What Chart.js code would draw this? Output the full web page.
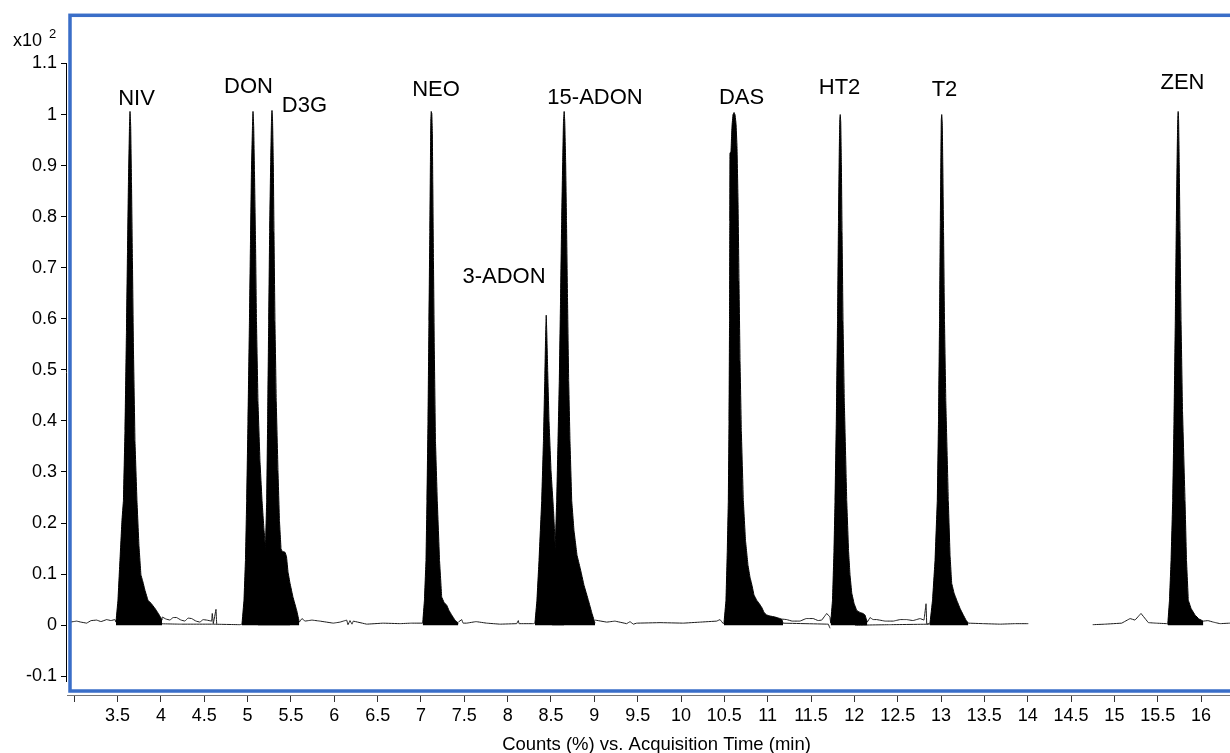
<!DOCTYPE html>
<html>
<head>
<meta charset="utf-8">
<title>Mycotoxin MRM chromatogram</title>
<script src="https://cdn.jsdelivr.net/npm/chart.js@4.4.0/dist/chart.umd.min.js"></script>
<style>
  html, body { margin: 0; padding: 0; background: #ffffff; }
  #wrap { width: 1230px; height: 753px; position: relative; }
</style>
</head>
<body>
<div id="wrap"><canvas id="chrom"></canvas></div>
<script>
// Integrated peaks: [retention time (min), relative response (x10^2 counts %)]
const peakNIV = [[3.481,0.006],[3.504,0.049],[3.527,0.127],[3.550,0.205],[3.567,0.244],[3.585,0.381],[3.602,0.576],[3.614,0.732],[3.625,0.869],[3.637,0.977],[3.643,1.006],[3.651,0.977],[3.660,0.869],[3.671,0.713],[3.683,0.537],[3.700,0.361],[3.723,0.244],[3.746,0.156],[3.769,0.098],[3.787,0.088],[3.816,0.068],[3.850,0.049],[3.885,0.043],[3.931,0.033],[3.977,0.021],[4.012,0.010]];
const peakDON = [[4.935,0.002],[4.958,0.049],[4.975,0.127],[4.989,0.244],[5.004,0.400],[5.021,0.596],[5.033,0.752],[5.044,0.889],[5.056,0.977],[5.062,1.006],[5.070,0.977],[5.079,0.889],[5.091,0.752],[5.102,0.596],[5.119,0.439],[5.142,0.322],[5.166,0.244],[5.189,0.186],[5.206,0.154],[5.235,0.098],[5.281,0.049],[5.373,0.020],[5.489,0.006]];
const peakD3G = [[5.119,0.002],[5.166,0.049],[5.194,0.127],[5.206,0.154],[5.220,0.244],[5.231,0.400],[5.243,0.596],[5.254,0.771],[5.266,0.908],[5.275,0.986],[5.281,1.008],[5.288,0.986],[5.296,0.908],[5.304,0.771],[5.315,0.596],[5.330,0.439],[5.350,0.303],[5.367,0.205],[5.385,0.150],[5.396,0.145],[5.431,0.143],[5.448,0.135],[5.466,0.104],[5.489,0.082],[5.523,0.055],[5.566,0.029],[5.596,0.006]];
const peakNEO = [[7.020,0.004],[7.040,0.049],[7.058,0.127],[7.069,0.244],[7.081,0.400],[7.092,0.596],[7.102,0.771],[7.109,0.908],[7.113,0.986],[7.118,1.006],[7.125,1.002],[7.131,0.967],[7.136,0.869],[7.144,0.713],[7.154,0.537],[7.167,0.361],[7.188,0.244],[7.214,0.127],[7.239,0.055],[7.265,0.045],[7.297,0.039],[7.323,0.029],[7.354,0.020],[7.392,0.010],[7.431,0.004]];
const peak3ADON = [[8.315,0.004],[8.338,0.049],[8.362,0.127],[8.393,0.244],[8.413,0.361],[8.428,0.479],[8.438,0.566],[8.445,0.607],[8.451,0.576],[8.462,0.498],[8.477,0.400],[8.500,0.303],[8.529,0.225],[8.549,0.154],[8.569,0.098],[8.604,0.039],[8.650,0.006]];
const peak15ADON = [[8.512,0.049],[8.535,0.107],[8.549,0.154],[8.566,0.244],[8.581,0.361],[8.596,0.479],[8.610,0.635],[8.623,0.791],[8.635,0.908],[8.644,0.986],[8.652,1.006],[8.659,0.986],[8.669,0.908],[8.679,0.791],[8.691,0.635],[8.704,0.479],[8.719,0.361],[8.739,0.244],[8.765,0.186],[8.800,0.137],[8.835,0.113],[8.881,0.078],[8.931,0.049],[8.973,0.023],[9.008,0.004]];
const peakDAS = [[10.496,0.004],[10.519,0.049],[10.534,0.146],[10.546,0.244],[10.554,0.400],[10.560,0.596],[10.563,0.791],[10.565,0.924],[10.577,0.928],[10.588,0.977],[10.600,1.000],[10.612,1.004],[10.623,1.000],[10.635,0.982],[10.646,0.938],[10.658,0.830],[10.669,0.674],[10.681,0.518],[10.696,0.381],[10.719,0.244],[10.744,0.166],[10.773,0.117],[10.796,0.094],[10.819,0.078],[10.842,0.059],[10.873,0.049],[10.900,0.043],[10.931,0.035],[10.958,0.025],[10.989,0.020],[11.027,0.018],[11.085,0.016],[11.162,0.012],[11.177,0.004]];
const peakHT2 = [[11.727,0.004],[11.748,0.049],[11.765,0.146],[11.777,0.244],[11.792,0.400],[11.806,0.596],[11.817,0.791],[11.826,0.928],[11.832,0.990],[11.837,1.000],[11.843,0.986],[11.850,0.908],[11.858,0.771],[11.869,0.596],[11.884,0.439],[11.912,0.244],[11.933,0.146],[11.950,0.098],[11.970,0.063],[11.996,0.043],[12.027,0.029],[12.065,0.025],[12.100,0.023],[12.123,0.020],[12.149,0.006]];
const peakT2 = [[12.873,0.004],[12.902,0.049],[12.931,0.127],[12.957,0.244],[12.971,0.400],[12.983,0.596],[12.992,0.791],[12.999,0.928],[13.003,0.990],[13.008,1.000],[13.014,0.986],[13.020,0.908],[13.029,0.771],[13.040,0.596],[13.055,0.439],[13.084,0.244],[13.104,0.137],[13.123,0.082],[13.150,0.063],[13.181,0.049],[13.219,0.033],[13.257,0.020],[13.288,0.010],[13.315,0.004]];
const peakZEN = [[15.616,0.002],[15.636,0.049],[15.654,0.127],[15.673,0.244],[15.688,0.400],[15.703,0.596],[15.715,0.791],[15.725,0.928],[15.731,0.990],[15.736,1.006],[15.741,0.990],[15.748,0.908],[15.757,0.771],[15.769,0.596],[15.786,0.420],[15.815,0.244],[15.832,0.127],[15.853,0.049],[15.884,0.033],[15.930,0.020],[15.977,0.012],[16.026,0.008]];

// Baseline stretches of the individual transitions between peaks
const baseLeadIn = [[2.950,0.006],[3.028,0.008],[3.077,0.006],[3.143,0.004],[3.193,0.009],[3.258,0.010],[3.308,0.007],[3.374,0.011],[3.423,0.009],[3.469,0.011],[3.481,0.006]];
const baseAfterNIV = [[4.012,0.010],[4.015,0.016],[4.058,0.012],[4.104,0.010],[4.139,0.015],[4.181,0.015],[4.231,0.010],[4.277,0.008],[4.312,0.014],[4.354,0.013],[4.404,0.008],[4.450,0.006],[4.485,0.011],[4.527,0.010],[4.585,0.008],[4.592,0.023],[4.604,0.003],[4.635,0.031],[4.643,0.002]];
const baseUnderNIV = [[3.939,0.003],[4.219,0.002],[4.600,0.002],[4.912,0.001],[4.935,0.002]];
const baseAfterD3G = [[5.596,0.006],[5.627,0.013],[5.662,0.008],[5.742,0.010],[5.835,0.008],[5.988,0.004],[6.066,0.006],[6.143,0.010],[6.158,0.001],[6.181,0.009],[6.204,0.002],[6.219,0.008],[6.374,0.002],[6.562,0.004],[6.758,0.003],[6.885,0.004],[7.020,0.004]];
const baseAfterNEO = [[7.431,0.006],[7.470,0.011],[7.485,0.004],[7.528,0.004],[7.635,0.007],[7.758,0.004],[7.912,0.002],[8.104,0.003],[8.123,0.009],[8.131,0.003],[8.296,0.003],[8.315,0.004]];
const baseAfterADON = [[9.008,0.010],[9.143,0.006],[9.238,0.008],[9.373,0.003],[9.412,0.007],[9.450,0.002],[9.489,0.004],[9.758,0.005],[10.027,0.004],[10.219,0.006],[10.412,0.008],[10.450,0.011],[10.488,0.003],[10.496,0.004]];
const baseAfterDAS = [[11.162,0.012],[11.220,0.011],[11.281,0.008],[11.373,0.008],[11.443,0.013],[11.526,0.013],[11.581,0.009],[11.624,0.010],[11.681,0.023],[11.719,0.016],[11.727,0.004]];
const baseUnderDAS = [[10.850,0.003],[11.162,0.004],[11.700,0.002],[11.719,-0.006]];
const baseAfterHT2 = [[12.149,0.006],[12.181,0.015],[12.215,0.011],[12.258,0.011],[12.354,0.008],[12.450,0.008],[12.527,0.011],[12.604,0.011],[12.677,0.009],[12.758,0.013],[12.804,0.010],[12.827,0.042],[12.835,0.002],[12.873,0.004]];
const baseUnderHT2 = [[12.008,0.000],[12.411,0.001],[12.873,0.002]];
const baseAfterT2 = [[13.315,0.004],[13.488,0.003],[13.681,0.002],[13.854,0.003],[14.007,0.003]];
const baseZenLead = [[14.750,0.001],[14.892,0.002],[15.085,0.004],[15.181,0.013],[15.238,0.010],[15.307,0.023],[15.392,0.005],[15.481,0.004],[15.604,0.003],[15.616,0.002]];
const baseZenTail = [[16.026,0.008],[16.080,0.009],[16.142,0.006],[16.219,0.003],[16.334,0.004]];

// Compound annotations, anchored in time / response units
const compoundNames = ['NIV', 'DON', 'D3G', 'NEO', '3-ADON', '15-ADON', 'DAS', 'HT2', 'T2', 'ZEN'];
const labelTimes = [3.718, 5.010, 5.656, 7.173, 7.958, 9.008, 10.698, 11.829, 13.040, 15.786];
const labelLevels = [1.031, 1.055, 1.016, 1.049, 0.682, 1.033, 1.033, 1.053, 1.049, 1.061];

// Axis ticks
const xTickValues = [3, 3.5, 4, 4.5, 5, 5.5, 6, 6.5, 7, 7.5, 8, 8.5, 9, 9.5, 10, 10.5, 11, 11.5, 12, 12.5, 13, 13.5, 14, 14.5, 15, 15.5, 16];
const xTickLabels = ['', '3.5', '4', '4.5', '5', '5.5', '6', '6.5', '7', '7.5', '8', '8.5', '9', '9.5', '10', '10.5', '11', '11.5', '12', '12.5', '13', '13.5', '14', '14.5', '15', '15.5', '16'];
const yTickValues = [-0.1, 0, 0.1, 0.2, 0.3, 0.4, 0.5, 0.6, 0.7, 0.8, 0.9, 1.0, 1.1];
const yTickLabels = ['-0.1', '0', '0.1', '0.2', '0.3', '0.4', '0.5', '0.6', '0.7', '0.8', '0.9', '1', '1.1'];
const xAxisTitle = 'Counts (%) vs. Acquisition Time (min)';
const yScaleNote = 'x10';
const yScaleExponent = '2';

const FONT = "'Liberation Sans', Arial, Helvetica, sans-serif";
const FRAME_BLUE = '#3a6ec8';

const toXY = pts => pts.map(([x, y]) => ({ x, y }));

const peakSets = [peakNIV, peakDON, peakD3G, peakNEO, peak3ADON, peak15ADON, peakDAS, peakHT2, peakT2, peakZEN];
const baseSets = [baseLeadIn, baseAfterNIV, baseUnderNIV, baseAfterD3G, baseAfterNEO, baseAfterADON,
                  baseAfterDAS, baseUnderDAS, baseAfterHT2, baseUnderHT2, baseAfterT2, baseZenLead, baseZenTail];

// A tiny non-zero tension keeps Chart.js on its exact path builder, so narrow
// peaks whose points share a pixel column still fill as solid shapes.
const NEAR_STRAIGHT = 0.0001;

const datasets = [];
peakSets.forEach((pts, i) => datasets.push({
  label: compoundNames[i],
  data: toXY(pts),
  borderColor: '#000',
  backgroundColor: '#000',
  borderWidth: 1,
  fill: 'origin',
  tension: NEAR_STRAIGHT,
  pointRadius: 0
}));
baseSets.forEach(pts => datasets.push({
  label: 'baseline',
  data: toXY(pts),
  borderColor: '#1a1a1a',
  borderWidth: 1,
  fill: false,
  tension: NEAR_STRAIGHT,
  pointRadius: 0
}));

const lookupLabel = (values, labels, v) => {
  const i = values.findIndex(t => Math.abs(t - v) < 1e-7);
  return i >= 0 ? labels[i] : '';
};

// Axis lines, the blue plot frame, the scale exponent and compound names
const decorations = {
  id: 'decorations',
  afterDraw(chart) {
    const { ctx, chartArea: a, scales: { x, y } } = chart;
    ctx.save();

    // vertical axis line spanning the labelled range
    ctx.strokeStyle = '#000';
    ctx.lineWidth = 1;
    ctx.beginPath();
    ctx.moveTo(a.left - 0.5, Math.round(y.getPixelForValue(yTickValues[yTickValues.length - 1])));
    ctx.lineTo(a.left - 0.5, Math.round(y.getPixelForValue(-0.112)));
    ctx.stroke();

    // blue frame around the trace area
    ctx.strokeStyle = FRAME_BLUE;
    ctx.lineWidth = 3.5;
    ctx.strokeRect(a.left + 3, a.top + 0.5, (a.right - a.left) + 20, (a.bottom - a.top) - 4.5);

    // compound names above their peaks
    ctx.fillStyle = '#000';
    ctx.font = '22px ' + FONT;
    ctx.textAlign = 'center';
    ctx.textBaseline = 'middle';
    compoundNames.forEach((name, i) => {
      ctx.fillText(name, x.getPixelForValue(labelTimes[i]), y.getPixelForValue(labelLevels[i]));
    });

    // response scale exponent
    ctx.textAlign = 'left';
    ctx.textBaseline = 'alphabetic';
    ctx.font = '18px ' + FONT;
    ctx.fillText(yScaleNote, 13, 46);
    ctx.font = '13px ' + FONT;
    ctx.fillText(yScaleExponent, 49, 38);

    // time axis title
    ctx.font = '18.5px ' + FONT;
    ctx.textAlign = 'center';
    ctx.fillText(xAxisTitle, (a.left + a.right) / 2 + 8, 750);

    ctx.restore();
  }
};

new Chart(document.getElementById('chrom'), {
  type: 'line',
  data: { datasets },
  plugins: [decorations],
  options: {
    responsive: true,
    maintainAspectRatio: false,
    animation: false,
    devicePixelRatio: 1,
    layout: { padding: { top: 13, right: 0, bottom: 0, left: 0 } },
    plugins: {
      legend: { display: false },
      tooltip: { enabled: false },
      title: { display: false }
    },
    elements: { point: { radius: 0 }, line: { tension: NEAR_STRAIGHT } },
    scales: {
      x: {
        type: 'linear',
        min: 2.916,
        max: 16.334,
        afterBuildTicks: s => { s.ticks = xTickValues.map(v => ({ value: v })); },
        afterFit: s => { s.height = 58; },
        grid: { display: true, drawOnChartArea: false, drawTicks: true, tickLength: 7, color: '#333', lineWidth: 1 },
        border: { display: true, color: '#777', width: 1 },
        ticks: {
          autoSkip: false,
          maxRotation: 0,
          padding: 3,
          color: '#000',
          font: { family: FONT, size: 18 },
          callback: v => lookupLabel(xTickValues, xTickLabels, v)
        }
      },
      y: {
        type: 'linear',
        min: -0.1367,
        max: 1.1953,
        afterBuildTicks: s => { s.ticks = yTickValues.map(v => ({ value: v })); },
        afterFit: s => { s.width = 67; },
        grid: { display: true, drawOnChartArea: false, drawTicks: true, tickLength: 6, color: '#000', lineWidth: 1 },
        border: { display: false },
        ticks: {
          padding: 4,
          color: '#000',
          font: { family: FONT, size: 18 },
          callback: v => lookupLabel(yTickValues, yTickLabels, v)
        }
      }
    }
  }
});
</script>
</body>
</html>
